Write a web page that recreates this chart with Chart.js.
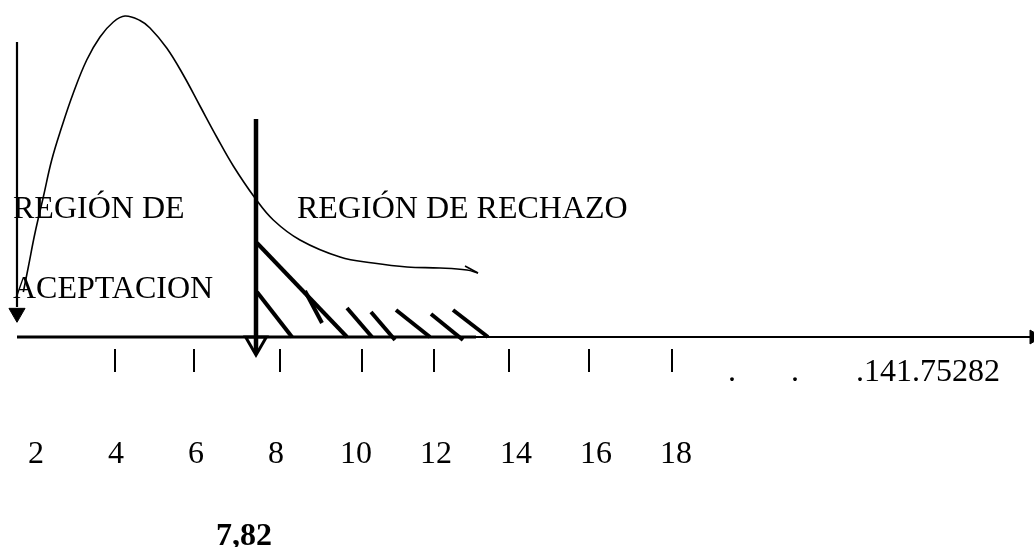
<!DOCTYPE html>
<html>
<head>
<meta charset="utf-8">
<script src="https://cdn.jsdelivr.net/npm/chart.js@4/dist/chart.umd.min.js"></script>
<style>
  html, body { margin: 0; padding: 0; background: #fff; }
  canvas { display: block; }
</style>
</head>
<body>
<canvas id="grafico" width="1034" height="547"></canvas>
<script>
// curva chi-cuadrado (trazo a mano)
const curvaX = [1.683, 1.808, 1.975, 2.183, 2.393, 2.643, 2.933, 3.268, 3.6, 3.933, 4.225, 4.6, 4.85, 5.268, 5.683, 6.1, 6.518, 6.933, 7.475, 7.933, 8.6, 9.6, 10.425, 11.275, 12.1, 12.775, 13.05];
const curvaY = [0.045, 0.070, 0.104, 0.140, 0.177, 0.210, 0.244, 0.277, 0.300, 0.315, 0.321, 0.3165, 0.309, 0.289, 0.262, 0.231, 0.200, 0.171, 0.139, 0.117, 0.097, 0.080, 0.074, 0.070, 0.069, 0.067, 0.064];
// gancho al final de la curva
const ganchoX = [13.05, 12.725];
const ganchoY = [0.064, 0.071];

// rayado de la region de rechazo (inicio -> fin de cada trazo)
const rayaX0 = [7.525, 7.525, 8.725, 9.775, 10.375, 11.0, 11.875, 12.425];
const rayaY0 = [0.094, 0.045, 0.046, 0.029, 0.025, 0.027, 0.023, 0.027];
const rayaX1 = [9.775, 8.4, 9.15, 10.4, 10.975, 11.85, 12.675, 13.3];
const rayaY1 = [0, 0, 0.014, 0, -0.003, 0, -0.003, 0];

// marcas del eje
const marcasX = [3.975, 5.95, 8.1, 10.15, 11.95, 13.825, 15.825, 17.9];
const marcasY = -0.0235;

// etiquetas del eje
const etiquetasEje = ['2', '4', '6', '8', '10', '12', '14', '16', '18'];
const valoresEje = [2, 4, 6, 8, 10, 12, 14, 16, 18];
const yEtiquetasEje = -0.126;

// puntos suspensivos y valor final
const textosFinal = ['.', '.', '.141.75282'];
const textosFinalX = [19.3, 20.875, 22.5];
const yTextosFinal = -0.044;

// valor critico
const lineaCritica = 7.5;
const etiquetaCritica = '7,82';

// limites
const ejeInicio = 1.525;
const ejeFin = 26.95;
const flechaIzqX = 1.525;
const flechaIzqArriba = 0.295;

const fuente = '32px "Liberation Serif", "Times New Roman", serif';

const negro = '#000';

function seg(x0, y0, x1, y1, ancho) {
    return {
        data: [{x: x0, y: y0}, {x: x1, y: y1}],
        showLine: true,
        borderColor: negro,
        borderWidth: ancho,
        pointRadius: 0,
        borderCapStyle: 'butt',
        clip: false
    };
}

const datasets = [];

// curva
datasets.push({
    data: curvaX.map((x, i) => ({x: x, y: curvaY[i]})),
    showLine: true,
    borderColor: negro,
    borderWidth: 1.6,
    tension: 0.4,
    pointRadius: 0,
    clip: false
});
datasets.push({
    data: ganchoX.map((x, i) => ({x: x, y: ganchoY[i]})),
    showLine: true,
    borderColor: negro,
    borderWidth: 1.6,
    pointRadius: 0,
    clip: false
});

// eje horizontal (tramo izquierdo mas grueso)
datasets.push(seg(ejeInicio, 0, 13.0, 0, 3));
datasets.push(seg(13.0, 0, ejeFin, 0, 2.2));
datasets.push({
    data: [{x: ejeFin, y: 0}],
    pointStyle: 'triangle',
    rotation: 90,
    radius: 8,
    backgroundColor: negro,
    borderColor: negro,
    borderWidth: 1,
    clip: false
});

// flecha izquierda
datasets.push(seg(flechaIzqX, flechaIzqArriba, flechaIzqX, 0.03, 2.2));
datasets.push({
    data: [{x: flechaIzqX, y: 0.024}],
    pointStyle: 'triangle',
    rotation: 180,
    radius: 9.3,
    backgroundColor: negro,
    borderColor: negro,
    borderWidth: 1,
    clip: false
});

// linea critica con punta abierta
datasets.push(seg(lineaCritica, 0.218, lineaCritica, -0.016, 4.5));
datasets.push({
    data: [{x: lineaCritica, y: -0.006}],
    pointStyle: 'triangle',
    rotation: 180,
    radius: 12,
    backgroundColor: 'rgba(0,0,0,0)',
    borderColor: negro,
    borderWidth: 3,
    clip: false
});

// rayado
rayaX0.forEach((x, i) => datasets.push(seg(x, rayaY0[i], rayaX1[i], rayaY1[i], 4)));

// marcas
datasets.push({
    data: marcasX.map(x => ({x: x, y: marcasY})),
    pointStyle: 'line',
    rotation: 90,
    radius: 11.5,
    borderColor: negro,
    borderWidth: 2,
    clip: false
});

const textos = {
    id: 'textos',
    afterDatasetsDraw(chart) {
        const ctx = chart.ctx;
        const sx = chart.scales.x;
        const sy = chart.scales.y;
        ctx.save();
        ctx.fillStyle = negro;
        ctx.textBaseline = 'alphabetic';
        ctx.font = fuente;

        ctx.textAlign = 'left';
        ctx.fillText('REGIÓN DE', sx.getPixelForValue(1.425), sy.getPixelForValue(0.119));
        ctx.fillText('ACEPTACION', sx.getPixelForValue(1.425), sy.getPixelForValue(0.039));
        ctx.fillText('REGIÓN DE RECHAZO', sx.getPixelForValue(8.525), sy.getPixelForValue(0.119));

        textosFinal.forEach((t, i) => {
            ctx.fillText(t, sx.getPixelForValue(textosFinalX[i]), sy.getPixelForValue(yTextosFinal));
        });

        ctx.textAlign = 'center';
        etiquetasEje.forEach((t, i) => {
            ctx.fillText(t, sx.getPixelForValue(valoresEje[i]), sy.getPixelForValue(yEtiquetasEje));
        });

        ctx.textAlign = 'left';
        ctx.font = 'bold ' + fuente;
        ctx.fillText(etiquetaCritica, sx.getPixelForValue(6.5), sy.getPixelForValue(-0.208));
        ctx.restore();
    }
};

new Chart(document.getElementById('grafico'), {
    type: 'scatter',
    data: { datasets: datasets },
    options: {
        responsive: false,
        animation: false,
        devicePixelRatio: 1,
        layout: { padding: 0, autoPadding: false },
        plugins: { legend: { display: false }, tooltip: { enabled: false } },
        scales: {
            x: { type: 'linear', min: 1.1, max: 26.95, display: false },
            y: { type: 'linear', min: -0.21, max: 0.337, display: false }
        }
    },
    plugins: [textos]
});
</script>
</body>
</html>
